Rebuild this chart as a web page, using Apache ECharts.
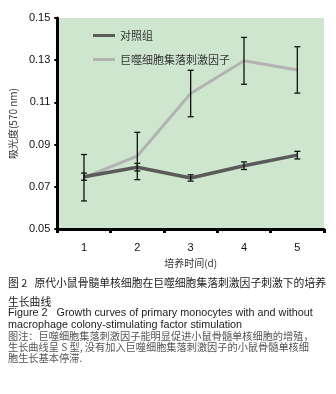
<!DOCTYPE html>
<html>
<head>
<meta charset="utf-8">
<script src="https://cdn.jsdelivr.net/npm/echarts@6/dist/echarts.min.js"></script>
<style>
  html, body { margin: 0; padding: 0; background: #fff; }
  #chart { width: 336px; height: 394px; }
</style>
</head>
<body>
<div id="chart"></div>
<script>
// 数据
var days = ['1', '2', '3', '4', '5'];
var controlMean = [0.0748, 0.0793, 0.0742, 0.0800, 0.0850];
var controlErr = [0.0017, 0.0018, 0.0015, 0.0018, 0.0018];
var mcsfMean = [0.0743, 0.0846, 0.1142, 0.1297, 0.1254];
var mcsfErr = [0.0110, 0.0112, 0.0110, 0.0111, 0.0110];

var controlName = '对照组';
var mcsfName = '巨噬细胞集落刺激因子';

// 误差线数据 [x, low, high]
function buildErr(mean, err) {
	var arr = [];
	for (var i = 0; i < mean.length; i++) {
		arr.push([i, mean[i] - err[i], mean[i] + err[i]]);
	}
	return arr;
}

function renderErr(params, api) {
	var x = api.value(0);
	var lo = api.coord([x, api.value(1)]);
	var hi = api.coord([x, api.value(2)]);
	var w = 3;
	var style = { stroke: '#111', lineWidth: 1.3 };
	return {
		type: 'group',
		children: [
			{ type: 'line', shape: { x1: hi[0], y1: hi[1], x2: lo[0], y2: lo[1] }, style: style },
			{ type: 'line', shape: { x1: hi[0] - w, y1: hi[1], x2: hi[0] + w, y2: hi[1] }, style: style },
			{ type: 'line', shape: { x1: lo[0] - w, y1: lo[1], x2: lo[0] + w, y2: lo[1] }, style: style }
		]
	};
}

var cjkFont = '"Noto Sans CJK SC", "Liberation Sans", sans-serif';
var latinFont = '"Liberation Sans", sans-serif';

// 图注文字
function captionLine(text, y, size, family, color) {
	return {
		type: 'text', x: 8, y: y,
		style: { text: text, font: size + 'px ' + family, fill: color, verticalAlign: 'middle' }
	};
}

var myChart = echarts.init(document.getElementById('chart'), null, { renderer: 'canvas' });
var option = {
	animation: false,
	backgroundColor: '#fff',
	grid: {
		left: 56,
		right: 12,
		top: 18,
		bottom: 165,
		show: true,
		backgroundColor: '#cde6cd',
		borderWidth: 0
	},
	legend: {
		orient: 'vertical',
		left: 88,
		top: 25,
		icon: 'rect',
		itemWidth: 22,
		itemHeight: 3,
		itemGap: 13,
		textStyle: { fontSize: 11, color: '#333', fontFamily: cjkFont },
		data: [controlName, mcsfName]
	},
	xAxis: {
		type: 'category',
		data: days,
		boundaryGap: true,
		name: '培养时间(d)',
		nameLocation: 'middle',
		nameGap: 28,
		nameTextStyle: { fontSize: 10, color: '#333', fontFamily: cjkFont },
		axisLine: { lineStyle: { color: '#000', width: 3 } },
		axisTick: { show: true, length: 4, lineStyle: { color: '#000', width: 3 } },
		axisLabel: { fontSize: 11, color: '#111', margin: 13, fontFamily: 'Liberation Sans' },
		splitLine: { show: false }
	},
	yAxis: {
		type: 'value',
		min: 0.05,
		max: 0.15,
		interval: 0.02,
		name: '吸光度(570 nm)',
		nameLocation: 'middle',
		nameGap: 31,
		nameRotate: 90,
		nameTextStyle: { fontSize: 10, color: '#333', fontFamily: cjkFont },
		axisLine: { show: true, lineStyle: { color: '#000', width: 3 } },
		axisTick: { show: true, length: 3, lineStyle: { color: '#000', width: 2 } },
		axisLabel: {
			fontSize: 11, color: '#111', margin: 7, fontFamily: 'Liberation Sans',
			formatter: function (v) { return v.toFixed(2); }
		},
		splitLine: { show: false }
	},
	series: [
		{
			name: controlName,
			type: 'line',
			data: controlMean,
			symbol: 'none',
			lineStyle: { color: '#5a5a5a', width: 3.5 },
			itemStyle: { color: '#5a5a5a' },
			z: 3
		},
		{
			name: mcsfName,
			type: 'line',
			data: mcsfMean,
			symbol: 'none',
			lineStyle: { color: '#b3b3b3', width: 3 },
			itemStyle: { color: '#b3b3b3' },
			z: 2
		},
		{
			type: 'custom',
			renderItem: renderErr,
			data: buildErr(controlMean, controlErr),
			z: 4
		},
		{
			type: 'custom',
			renderItem: renderErr,
			data: buildErr(mcsfMean, mcsfErr),
			z: 4
		}
	],
	graphic: [
		captionLine('图 2   原代小鼠骨髓单核细胞在巨噬细胞集落刺激因子刺激下的培养', 283, 10.8, cjkFont, '#222'),
		captionLine('生长曲线', 302, 10.8, cjkFont, '#222'),
		captionLine('Figure 2   Growth curves of primary monocytes with and without', 313.5, 10.8, latinFont, '#222'),
		captionLine('macrophage colony-stimulating factor stimulation', 325.5, 10.8, latinFont, '#222'),
		captionLine('图注：巨噬细胞集落刺激因子能明显促进小鼠骨髓单核细胞的增殖，', 336, 10.2, cjkFont, '#555'),
		captionLine('生长曲线呈 S 型, 没有加入巨噬细胞集落刺激因子的小鼠骨髓单核细', 347, 10.2, cjkFont, '#555'),
		captionLine('胞生长基本停滞.', 358, 10.2, cjkFont, '#555')
	]
};
myChart.setOption(option);
</script>
</body>
</html>
